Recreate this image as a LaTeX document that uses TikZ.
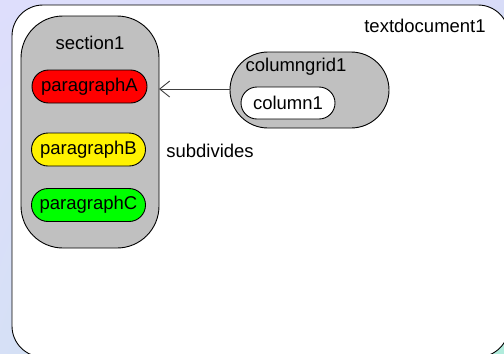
\documentclass[tikz,border=0pt]{standalone}
\usepackage{fontspec}
\setmainfont{Liberation Sans}
\usetikzlibrary{arrows.meta,shapes.misc,shadings}
\definecolor{bgTL}{RGB}{222,222,252}
\definecolor{bgTR}{RGB}{216,220,248}
\definecolor{bgBL}{RGB}{214,224,246}
\definecolor{bgBR}{RGB}{176,236,220}
\definecolor{grayfill}{RGB}{192,192,192}
\begin{document}
\begin{tikzpicture}[x=1bp,y=-1bp,
  every node/.style={font=\fontsize{18.5bp}{20bp}\selectfont},
  pill/.style={draw=black,line width=0.9bp,rounded rectangle,inner sep=0pt},
  para/.style={pill,minimum width=115bp,minimum height=33bp},
  lbl/.style={inner sep=0pt}]
\useasboundingbox (0,0) rectangle (504,353);
\begin{scope}[y=1bp]
\shade[upper left=bgTL,upper right=bgTR,lower left=bgBL,lower right=bgBR] (0,-353) rectangle (504,0);
\end{scope}
% outer text document
\draw[fill=white,line width=0.9bp,rounded corners=31bp] (12,5) rectangle (509,357);
\node[lbl] (td) at (425,26) {textdocument1};
% section
\draw[fill=grayfill,line width=0.9bp,rounded corners=42bp] (21,16) rectangle (159,248);
\coordinate (secR) at (159,89);
\node[lbl] (sec) at (90,43) {section1};
\node[para,fill=red] (pA) at (89.5,86.5) {paragraphA};
\node[para,fill=yellow,minimum width=114bp] (pB) at (88.5,149.5) {paragraphB};
\node[para,fill=green,minimum width=114bp] (pC) at (88.5,205) {paragraphC};
% columngrid
\node[pill,fill=grayfill,minimum width=159bp,minimum height=76bp] (cg) at (309.5,90) {};
\node[lbl] (cgl) at (296,67) {columngrid1};
\node[pill,fill=white,minimum width=94bp,minimum height=32bp] (c1) at (288,103) {column1};
\draw[line width=0.9bp,draw=black!75,-{Straight Barb[length=10bp,width=16bp,line width=0.9bp]}] (cg.west |- secR) -- (secR);
\node[lbl] (sub) at (210,151) {subdivides};
\end{tikzpicture}
\end{document}
